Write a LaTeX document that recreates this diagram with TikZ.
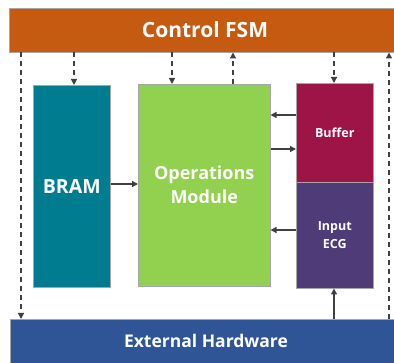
\documentclass[tikz,border=0pt]{standalone}
\usepackage{fontspec}
\setmainfont{Open Sans}
\usetikzlibrary{arrows.meta,shadows}
\definecolor{fsm}{HTML}{C55A11}
\definecolor{bram}{HTML}{007C91}
\definecolor{ops}{HTML}{92D050}
\definecolor{buf}{HTML}{9E1446}
\definecolor{ecg}{HTML}{4E3B77}
\definecolor{ext}{HTML}{2F5597}
\definecolor{ln}{HTML}{404040}
\tikzset{
  blk/.style={draw=gray!70, line width=0.5pt, inner sep=0pt, anchor=north west, text=white, font=\bfseries, align=center,
    drop shadow={shadow xshift=1.2pt, shadow yshift=-1.2pt, fill=black, opacity=0.25}},
  ctl/.style={ln, line width=1.3pt, dash pattern=on 5pt off 4pt, -{Triangle[length=6pt,width=6pt]}},
  dat/.style={ln, line width=1.3pt, -{Triangle[length=6pt,width=6pt]}},
}
\begin{document}
\begin{tikzpicture}[x=1pt,y=-1pt]
\useasboundingbox (0,0) rectangle (394,363);
\node[blk, fill=fsm, minimum width=390pt, minimum height=44pt] (fsm) at (9,8) {};
\node[text=white, font=\bfseries\fontsize{21}{24}\selectfont] (fsmlbl) at (205,30) {Control FSM};
\node[blk, fill=ext, minimum width=390pt, minimum height=50pt] (ext) at (10,319) {};
\node[text=white, font=\bfseries\fontsize{17.5}{22}\selectfont] (extlbl) at (206,341) {External Hardware};
\node[blk, fill=bram, minimum width=77pt, minimum height=202pt, font=\bfseries\fontsize{19.5}{22}\selectfont] (bram) at (33,85) {BRAM};
\node[blk, fill=ops, minimum width=132pt, minimum height=202pt, font=\bfseries\fontsize{18}{24}\selectfont] (ops) at (138,84) {Operations\\Module};
\node[blk, fill=buf, minimum width=77pt, minimum height=99pt, font=\bfseries\fontsize{12.5}{17}\selectfont] (buf) at (296,83) {Buffer};
\node[blk, fill=ecg, minimum width=77pt, minimum height=106pt, font=\bfseries\fontsize{12.5}{17.5}\selectfont] (ecg) at (296,182) {Input\\ECG};
% control arrows
\draw[ctl] (fsm.south -| 21,0) -- (ext.north -| 21,0);
\draw[ctl] (ext.north -| 389,0) -- (fsm.south -| 389,0);
\draw[ctl] (fsm.south -| 74,0) -- (bram.north -| 74,0);
\draw[ctl] (fsm.south -| 172,0) -- (ops.north -| 172,0);
\draw[ctl] (ops.north -| 233,0) -- (fsm.south -| 233,0);
\draw[ctl] (fsm.south -| 334,0) -- (buf.north -| 334,0);
% data arrows
\draw[dat] (bram.east |- 0,184) -- (ops.west |- 0,184);
\draw[dat] (buf.west |- 0,115) -- (ops.east |- 0,115);
\draw[dat] (ops.east |- 0,149) -- (buf.west |- 0,149);
\draw[dat] (ecg.west |- 0,230) -- (ops.east |- 0,230);
\draw[dat] (ext.north -| 334,0) -- (ecg.south -| 334,0);
\end{tikzpicture}
\end{document}
